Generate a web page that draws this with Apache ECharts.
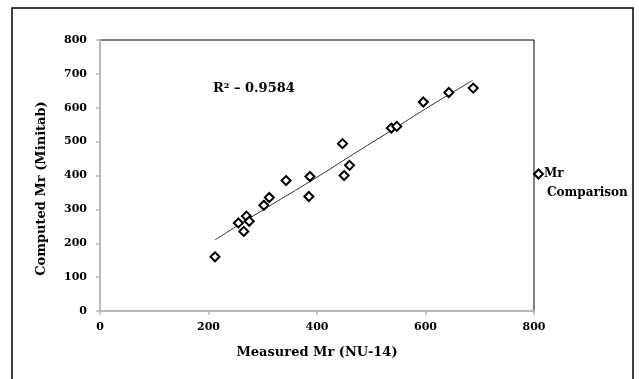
<!DOCTYPE html>
<html><head><meta charset="utf-8">
<script src="https://cdn.jsdelivr.net/npm/echarts@6/dist/echarts.min.js"></script>
<style>html,body{margin:0;padding:0;background:#fff}#c{width:639px;height:379px}</style>
</head><body><div id="c"></div>
<script>
// Measured Mr (NU-14) vs Computed Mr (Minitab)
var measured = [212, 255, 265, 270, 275, 302, 312, 343, 385, 387, 447, 450, 460, 537, 547, 596, 643, 688];
var computed = [160, 260, 235, 280, 265, 312, 335, 385, 338, 397, 494, 400, 430, 540, 545, 617, 645, 658];
var trendX = [212, 300, 393, 470, 547, 600, 687];
var trendY = [210, 298, 388, 466, 543, 597, 681];
var xTicks = [0, 200, 400, 600, 800];
var yTicks = [0, 100, 200, 300, 400, 500, 600, 700, 800];

var pts = measured.map(function (v, i) { return [v, computed[i]]; });
var trend = trendX.map(function (v, i) { return [v, trendY[i]]; });
var serif = '"DejaVu Serif", "Liberation Serif", serif';

var chart = echarts.init(document.getElementById('c'), null, {renderer: 'canvas'});
chart.setOption({
  animation: false,
  backgroundColor: '#fff',
  grid: {left: 100, right: 105, top: 40, bottom: 68, show: true, borderColor: '#000', borderWidth: 1, backgroundColor: 'transparent'},
  xAxis: {
    type: 'value', min: xTicks[0], max: xTicks[xTicks.length - 1], interval: 200,
    name: 'Measured Mr (NU-14)', nameLocation: 'middle', nameGap: 35,
    nameTextStyle: {fontFamily: serif, fontWeight: 'bold', fontSize: 13, color: '#000'},
    axisLine: {show: true, lineStyle: {color: '#b8b8b8', width: 2}},
    axisTick: {show: true, inside: false, length: 4, lineStyle: {color: '#b8b8b8', width: 1.5}},
    axisLabel: {margin: 11, fontFamily: serif, fontWeight: 'bold', fontSize: 11, color: '#000'},
    splitLine: {show: false}
  },
  yAxis: {
    type: 'value', min: yTicks[0], max: yTicks[yTicks.length - 1], interval: 100,
    name: 'Computed Mr (Minitab)', nameLocation: 'middle', nameGap: 52, nameRotate: 90,
    nameTextStyle: {fontFamily: serif, fontWeight: 'bold', fontSize: 13, color: '#000', padding: [0, 26, 0, 0]},
    axisLine: {show: true, lineStyle: {color: '#b8b8b8', width: 2}},
    axisTick: {show: true, inside: false, length: 4, lineStyle: {color: '#b8b8b8', width: 1.5}},
    axisLabel: {margin: 13, fontFamily: serif, fontWeight: 'bold', fontSize: 11, color: '#000'},
    splitLine: {show: false}
  },
  legend: {
    show: true, left: 528, top: 163, orient: 'vertical',
    itemWidth: 9, itemHeight: 9, itemGap: 4,
    data: [{name: 'Mr Comparison', icon: 'diamond'}],
    formatter: function () { return 'Mr'; },
    textStyle: {fontFamily: serif, fontWeight: 'bold', fontSize: 12, color: '#000', padding: [0, 0, 0, -4]}
  },
  graphic: [
    {type: 'rect', shape: {x: 12, y: 8, width: 621, height: 400}, style: {fill: 'none', stroke: '#000', lineWidth: 1.5}, z: 100},
    {type: 'text', left: 547, top: 187, style: {text: 'Comparison', font: 'bold 12px ' + serif, fill: '#000'}},
    {type: 'text', left: 213, top: 82, style: {text: 'R\u00b2 \u2013 0.9584', font: 'bold 13px ' + serif, fill: '#000'}}
  ],
  series: [
    {
      name: 'Mr Comparison', type: 'scatter', data: pts, symbol: 'diamond', symbolSize: 9,
      itemStyle: {color: '#fff', borderColor: '#000', borderWidth: 2, opacity: 1}, z: 5
    },
    {
      name: 'trend', type: 'line', data: trend, showSymbol: false, smooth: true,
      lineStyle: {color: '#333', width: 1}, z: 3, silent: true
    }
  ]
});
</script></body></html>
